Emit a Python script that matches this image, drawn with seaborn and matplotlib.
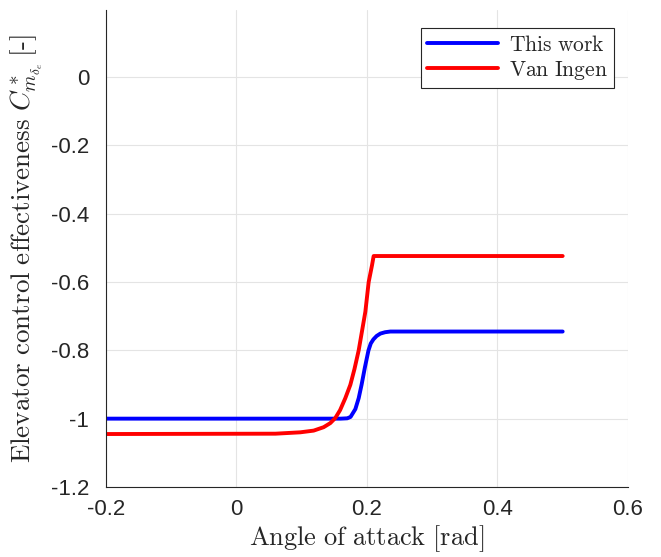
import numpy as np
import pandas as pd
import seaborn as sns
import matplotlib
matplotlib.use("Agg")
import matplotlib.pyplot as plt

# Elevator control effectiveness vs angle of attack
alpha_this = [-0.20, 0.16, 0.17, 0.175, 0.1824, 0.1875, 0.192, 0.197, 0.2025, 0.206,
              0.21, 0.215, 0.2207, 0.228, 0.236, 0.50]
cm_this = [-1.0, -1.0, -0.999, -0.995, -0.972, -0.94, -0.90, -0.85, -0.80, -0.78,
           -0.768, -0.758, -0.751, -0.747, -0.745, -0.745]

alpha_vi = [-0.20, 0.06, 0.098, 0.1185, 0.1338, 0.144, 0.1517, 0.159, 0.167, 0.1747,
            0.181, 0.1875, 0.1977, 0.2028, 0.208, 0.2104, 0.50]
cm_vi = [-1.045, -1.044, -1.040, -1.035, -1.025, -1.013, -0.998, -0.975, -0.940, -0.901,
         -0.855, -0.80, -0.687, -0.60, -0.55, -0.524, -0.524]

series_names = ["This work", "Van Ingen"]
series_colors = ["#0000ff", "#ff0000"]

xticks = [-0.2, 0, 0.2, 0.4, 0.6]
yticks = [0, -0.2, -0.4, -0.6, -0.8, -1.0, -1.2]

df = pd.concat([
    pd.DataFrame({"alpha": alpha_this, "cm": cm_this, "series": series_names[0]}),
    pd.DataFrame({"alpha": alpha_vi, "cm": cm_vi, "series": series_names[1]}),
])

sns.set_theme(style="white")
plt.rcParams["mathtext.fontset"] = "cm"
plt.rcParams["font.family"] = ["Liberation Sans", "DejaVu Sans"]

fig = plt.figure(figsize=(6.61, 5.57), dpi=100)
ax = fig.add_axes([0.160, 0.1257, 0.790, 0.8563])

for name, color in zip(series_names, series_colors):
    sub = df[df["series"] == name]
    sns.lineplot(data=sub, x="alpha", y="cm", ax=ax, color=color, lw=2.8,
                 sort=False, estimator=None, label=name)
for line in ax.get_lines():
    line.set_solid_joinstyle("round")

ax.set_xlim(-0.2, 0.6)
ax.set_ylim(-1.2, 0.196)
ax.set_xticks(xticks)
ax.set_yticks(yticks)
ax.set_xticklabels([f"{t:g}" for t in xticks])
ax.set_yticklabels([f"{t:g}" for t in yticks])
ax.tick_params(direction="in", length=5, width=0.8, colors="#262626", labelsize=16)
ax.tick_params(axis="y", pad=12)
ax.tick_params(axis="x", pad=9)
ax.grid(True, color="#e4e4e4", lw=0.8)
ax.set_axisbelow(True)
for s in ["top", "right"]:
    ax.spines[s].set_visible(False)
for s in ["left", "bottom"]:
    ax.spines[s].set_color("#262626")
    ax.spines[s].set_linewidth(0.8)

ax.set_xlabel(r"$\mathrm{Angle\ of\ attack\ [rad]}$", fontsize=19, color="#262626", labelpad=2)
ax.set_ylabel(r"$\mathrm{Elevator\ control\ effectiveness}\ C^*_{m_{\delta_e}}\,\mathrm{[\text{-}]}$",
              fontsize=19.5, color="#262626", labelpad=4)

leg = ax.legend(loc="upper right", bbox_to_anchor=(0.973, 0.963), frameon=True, fancybox=False,
                edgecolor="#262626", framealpha=1, borderpad=0.28, handlelength=3.3,
                handletextpad=0.5, labelspacing=0.15, borderaxespad=0.0,
                prop={"family": "DejaVu Serif", "size": 15.5})
for t in leg.get_texts():
    t.set_text(r"$\mathrm{" + t.get_text().replace(" ", r"\ ") + "}$")
leg.get_frame().set_linewidth(0.8)

fig.savefig("out.png", dpi=100)
